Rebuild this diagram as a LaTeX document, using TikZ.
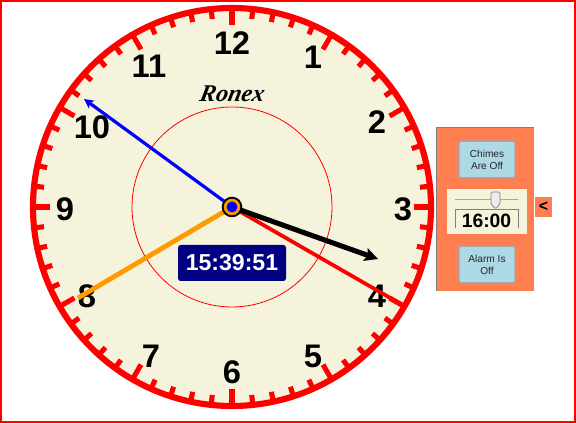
\documentclass[tikz,border=0pt]{standalone}
\usepackage{fontspec}
\setmainfont{Liberation Sans}
\newfontfamily\logofont[FakeSlant=0.2]{Liberation Serif}
\usetikzlibrary{arrows.meta,calc}
\definecolor{face}{HTML}{F5F3DC}
\definecolor{coral}{HTML}{FF7F50}
\definecolor{btn}{HTML}{ADD8E6}
\definecolor{navyb}{HTML}{000080}
\definecolor{redc}{HTML}{FF0000}
\definecolor{orangec}{HTML}{FF9900}
\tikzset{
  numeral/.style={font=\fontsize{24.5}{24.5}\selectfont\bfseries,text=black,inner sep=0pt},
  hand/.style={line cap=butt},
  btnbox/.style={draw=gray!70,line width=1pt,fill=btn,rounded corners=1.5pt,align=center,inner sep=0pt,
     minimum width=42pt,minimum height=27.5pt,font=\fontsize{7.6}{9}\selectfont,text=black!85},
}
\begin{document}
\begin{tikzpicture}[x=0.75pt,y=-0.75pt]
\useasboundingbox (0,0) rectangle (576,423);
\fill[white] (0,0) rectangle (576,423);
\draw[redc,line width=2pt] (1,1) rectangle (575,422);
% dial
\coordinate (c) at (232,207);
\fill[face] (c) circle[radius=200];
\draw[redc,line width=4.6pt] (c) circle[radius=199];
\foreach \i in {0,...,59}{
  \pgfmathsetmacro\r{mod(\i,5)==0?182:189}
  \draw[redc,line width=3.8pt] ($(c)+(\i*6:199)$) -- ($(c)+(\i*6:\r)$);
}
\draw[redc,line width=0.6pt] (c) circle[radius=100];
% numerals
\node[numeral] (n12) at (232,43) {12};
\node[numeral] (n1) at (313,57) {1};
\node[numeral] (n2) at (377,122) {2};
\node[numeral] (n3) at (403,209) {3};
\node[numeral] (n4) at (377,296) {4};
\node[numeral] (n5) at (313,356) {5};
\node[numeral] (n6) at (232,372) {6};
\node[numeral] (n7) at (151,356) {7};
\node[numeral] (n8) at (87,296) {8};
\node[numeral] (n9) at (65,209) {9};
\node[numeral] (n10) at (92,127) {10};
\node[numeral] (n11) at (149,66) {11};
\node[font=\logofont\fontsize{18}{18}\selectfont\bfseries\itshape,inner sep=0pt] (logo) at (231,94) {Ronex};
% hands
\coordinate (hs) at (406,307);
\coordinate (hh) at (78,298);
\coordinate (hm) at (378,259);
\coordinate (ha) at (84,99);
\draw[hand,redc,line width=2.8pt] (c) -- (hs);
\draw[hand,orangec,line width=3.6pt] (c) -- (hh);
\draw[hand,black,line width=3.8pt,-{Stealth[length=10pt,width=10pt,inset=2pt]}] (c) -- (hm);
\draw[hand,blue,line width=2.4pt,-{Stealth[length=7pt,width=7pt,inset=1.5pt]}] (c) -- (ha);
\node[circle,draw=black,line width=1.4pt,fill=orangec,minimum size=14pt,inner sep=0pt] (hub) at (c) {};
\fill[blue] (c) circle[radius=5.5];
% time
\node[fill=navyb,rounded corners=2pt,text=white,font=\fontsize{17.3}{17.3}\selectfont\bfseries,
  minimum width=81pt,minimum height=27pt,inner sep=0pt] (time) at (232,263) {15:39:51};
% panel
\fill[coral] (436,127) rectangle (534,291);
\draw[gray,line width=1pt] (436.5,291) -- (436.5,127.5) -- (534,127.5);
\fill[face] (447,189) rectangle (527,234);
\node[btnbox] (chimes) at (487,159.5) {Chimes\\Are Off};
\node[btnbox] (alarm) at (487,264.5) {Alarm Is\\Off};
\draw[gray!70,line width=0.8pt] (455,199.5) -- (518,199.5);
\draw[gray,line width=0.6pt,fill=gray!15,rounded corners=1pt] (491,192) -- (500,192) -- (500,204) -- (495.5,209) -- (491,204) -- cycle;
\draw[gray,line width=0.5pt] (455.5,228) -- (455.5,209.5) -- (518.5,209.5) -- (518.5,228);
\node[font=\fontsize{14.5}{14.5}\selectfont\bfseries,inner sep=0pt] (alarmtime) at (486.5,221) {16:00};
\node[fill=coral,font=\fontsize{12}{12}\selectfont\bfseries,minimum width=13pt,minimum height=15pt,inner sep=0pt] (tab) at (543.5,207) {<};
\end{tikzpicture}
\end{document}
